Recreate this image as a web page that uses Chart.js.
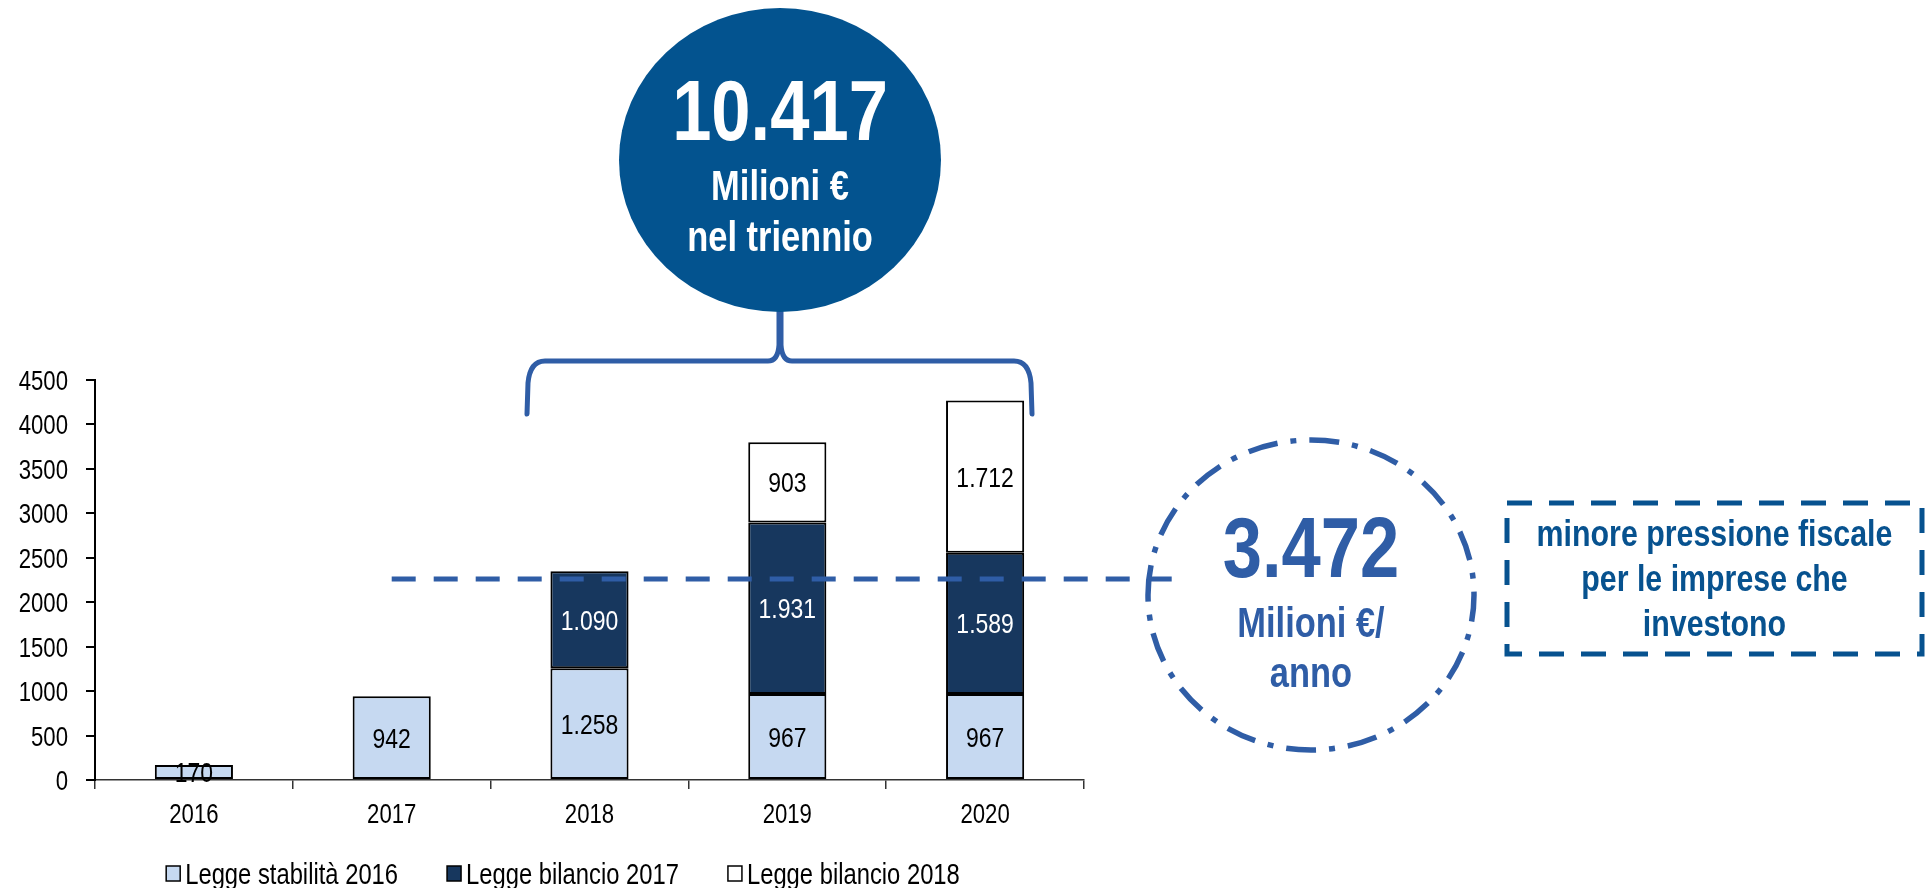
<!DOCTYPE html>
<html lang="it">
<head>
<meta charset="utf-8">
<title>Minore pressione fiscale per le imprese che investono</title>
<script src="https://cdn.jsdelivr.net/npm/chart.js@4.4.1/dist/chart.umd.min.js"></script>
<style>
  html, body { margin: 0; padding: 0; background: #fff; }
  #wrap { position: relative; width: 1930px; height: 888px; }
</style>
</head>
<body>
<div id="wrap"><canvas id="chart" width="1930" height="888"></canvas></div>
<script>
// --- DATI ---
const anni = ['2016', '2017', '2018', '2019', '2020'];
const serieNomi = ['Legge stabilità 2016', 'Legge bilancio 2017', 'Legge bilancio 2018'];
const leggeStabilita2016 = [170, 942, 1258, 967, 967];
const leggeBilancio2017 = [null, null, 1090, 1931, 1589];
const leggeBilancio2018 = [null, null, null, 903, 1712];
const yMin = 0, yMax = 4500, yStep = 500;
const anniTriennio = ['2018', '2019', '2020'];
const lineaRiferimento = 2260; // livello della linea tratteggiata blu

// --- STILE ---
// niente Arial Narrow installato: Liberation Sans stretta in orizzontale
const FONT = '"Liberation Sans", Arial, sans-serif';
const STRETTO = 0.82;
const colori = {
  stabilita: '#C6D9F1',
  bil2017: '#17375E',
  bil2018: '#FFFFFF',
  cerchio: '#03538F',
  blu: '#2F5DA6',
  box: '#07528F'
};
const coloriEtichette = ['#000', '#fff', '#000'];

// posizioni delle decorazioni (non sono dati)
const pos = {
  cerchio: { x: 780, y: 160, rx: 161, ry: 152 },
  graffa: { left: 527, right: 1032, y: 361, bottom: 414, tip: 312 },
  lineaFine: 1182,
  ovale: { x: 1311, y: 595, rx: 163, ry: 155 },
  box: { x: 1507, y: 503, w: 415, h: 151 },
  legenda: { cx: 563, y: 874 },
  tickY: 68,
  tickX: 823
};

// formato italiano: 1258 -> 1.258
const fmt = v => String(v).replace(/\B(?=(\d{3})+(?!\d))/g, '.');

// totale del triennio e media annua
const serie = [leggeStabilita2016, leggeBilancio2017, leggeBilancio2018];
const totaleTriennio = anniTriennio.reduce((acc, a) => {
  const i = anni.indexOf(a);
  return acc + serie.reduce((s, arr) => s + (arr[i] || 0), 0);
}, 0);
const mediaAnnua = Math.round(totaleTriennio / anniTriennio.length);

// testo "narrow" (scala orizzontale)
function testo(ctx, str, x, y, size, color, bold, align) {
  ctx.save();
  ctx.translate(x, y);
  ctx.scale(STRETTO, 1);
  ctx.font = (bold ? 'bold ' : '') + size + 'px ' + FONT;
  ctx.fillStyle = color;
  ctx.textAlign = align || 'center';
  ctx.textBaseline = 'alphabetic';
  ctx.fillText(str, 0, 0);
  ctx.restore();
}

function larghezza(ctx, str, size) {
  ctx.save();
  ctx.font = size + 'px ' + FONT;
  const w = ctx.measureText(str).width * STRETTO;
  ctx.restore();
  return w;
}

// --- PLUGIN: etichette e decorazioni ---
const decorazioni = {
  id: 'decorazioni',
  afterDatasetsDraw(chart) {
    const ctx = chart.ctx;

    // etichette dei valori al centro di ogni segmento
    chart.data.datasets.forEach((ds, i) => {
      chart.getDatasetMeta(i).data.forEach((bar, j) => {
        const v = ds.data[j];
        if (v == null) return;
        const yc = (bar.y + bar.base) / 2;
        testo(ctx, fmt(v), bar.x, yc + 10, 28, coloriEtichette[i], false);
      });
    });

    // linea tratteggiata
    const yRif = chart.scales.y.getPixelForValue(lineaRiferimento);
    const xRif = chart.scales.x.getPixelForValue(1);
    ctx.save();
    ctx.strokeStyle = colori.blu;
    ctx.lineWidth = 5;
    ctx.setLineDash([24, 18]);
    ctx.beginPath();
    ctx.moveTo(xRif, yRif);
    ctx.lineTo(pos.lineaFine, yRif);
    ctx.stroke();
    ctx.restore();
  },
  afterDraw(chart) {
    const ctx = chart.ctx;
    const sx = chart.scales.x, sy = chart.scales.y;

    // etichette degli assi
    sy.ticks.forEach((t, i) => {
      testo(ctx, String(t.value), pos.tickY, sy.getPixelForTick(i) + 10, 27, '#000', false, 'right');
    });
    sx.ticks.forEach((t, i) => {
      testo(ctx, anni[i], sx.getPixelForTick(i), pos.tickX, 27, '#000', false);
    });

    // graffa sopra il triennio
    const g = pos.graffa, xm = pos.cerchio.x;
    ctx.save();
    ctx.strokeStyle = colori.blu;
    ctx.lineWidth = 5;
    ctx.lineCap = 'round';
    ctx.lineJoin = 'round';
    ctx.beginPath();
    ctx.moveTo(g.left, g.bottom);
    ctx.lineTo(g.left + 1, g.y + 22);
    ctx.quadraticCurveTo(g.left + 3, g.y, g.left + 18, g.y);
    ctx.lineTo(xm - 12, g.y);
    ctx.quadraticCurveTo(xm - 2, g.y, xm - 1, g.y - 16);
    ctx.lineTo(xm - 1, g.tip);
    ctx.moveTo(g.right, g.bottom);
    ctx.lineTo(g.right - 1, g.y + 22);
    ctx.quadraticCurveTo(g.right - 3, g.y, g.right - 18, g.y);
    ctx.lineTo(xm + 12, g.y);
    ctx.quadraticCurveTo(xm + 2, g.y, xm + 1, g.y - 16);
    ctx.lineTo(xm + 1, g.tip);
    ctx.stroke();
    ctx.restore();

    // cerchio pieno con il totale
    const c = pos.cerchio;
    ctx.save();
    ctx.fillStyle = colori.cerchio;
    ctx.beginPath();
    ctx.ellipse(c.x, c.y, c.rx, c.ry, 0, 0, Math.PI * 2);
    ctx.fill();
    ctx.restore();
    testo(ctx, fmt(totaleTriennio), c.x, 140, 86, '#fff', true);
    testo(ctx, 'Milioni €', c.x, 200, 42, '#fff', true);
    testo(ctx, 'nel triennio', c.x, 251, 42, '#fff', true);

    // ovale tratto-punto con la media annua
    const o = pos.ovale;
    ctx.save();
    ctx.strokeStyle = colori.blu;
    ctx.lineWidth = 5.5;
    ctx.setLineDash([30, 13, 6, 13]);
    ctx.beginPath();
    ctx.ellipse(o.x, o.y, o.rx, o.ry, 0, Math.PI, Math.PI * 3);
    ctx.stroke();
    ctx.restore();
    testo(ctx, fmt(mediaAnnua), o.x, 577, 86, colori.blu, true);
    testo(ctx, 'Milioni €/', o.x, 637, 42, colori.blu, true);
    testo(ctx, 'anno', o.x, 687, 42, colori.blu, true);

    // riquadro tratteggiato
    const b = pos.box;
    ctx.save();
    ctx.strokeStyle = colori.box;
    ctx.lineWidth = 5;
    ctx.setLineDash([25, 17]);
    ctx.strokeRect(b.x, b.y, b.w, b.h);
    ctx.restore();
    const bx = b.x + b.w / 2;
    testo(ctx, 'minore pressione fiscale', bx, 546, 37, colori.box, true);
    testo(ctx, 'per le imprese che', bx, 591, 37, colori.box, true);
    testo(ctx, 'investono', bx, 636, 37, colori.box, true);

    // legenda
    const box = 14, gap = 5, spazio = 49, fs = 29;
    const larghezze = chart.data.datasets.map(ds => larghezza(ctx, ds.label, fs));
    const totale = larghezze.reduce((s, w) => s + box + gap + w, 0) + spazio * (larghezze.length - 1);
    let lx = pos.legenda.cx - totale / 2;
    const ly = pos.legenda.y;
    chart.data.datasets.forEach((ds, i) => {
      ctx.save();
      ctx.fillStyle = ds.backgroundColor;
      ctx.fillRect(lx, ly - 8, box, box + 1);
      ctx.strokeStyle = '#000';
      ctx.lineWidth = 1.5;
      ctx.strokeRect(lx, ly - 8, box, box + 1);
      ctx.restore();
      testo(ctx, ds.label, lx + box + gap, ly + 10, fs, '#000', false, 'left');
      lx += box + gap + larghezze[i] + spazio;
    });
  }
};

// --- GRAFICO ---
Chart.defaults.font.family = FONT;
Chart.defaults.color = '#000';

const datasetDa = (label, data, colore) => ({
  label: label,
  data: data,
  backgroundColor: colore,
  borderColor: '#000',
  borderWidth: 2,
  borderSkipped: false,
  categoryPercentage: 1,
  barPercentage: 0.395
});

new Chart(document.getElementById('chart'), {
  type: 'bar',
  data: {
    labels: anni,
    datasets: [
      datasetDa(serieNomi[0], leggeStabilita2016, colori.stabilita),
      datasetDa(serieNomi[1], leggeBilancio2017, colori.bil2017),
      datasetDa(serieNomi[2], leggeBilancio2018, colori.bil2018)
    ]
  },
  options: {
    responsive: false,
    animation: false,
    layout: { padding: { top: 380, left: 0, right: 846, bottom: 48 } },
    plugins: {
      legend: { display: false },
      tooltip: { enabled: false }
    },
    scales: {
      x: {
        stacked: true,
        grid: { offset: true, drawOnChartArea: false, tickLength: 9, color: '#333', lineWidth: 1.5 },
        border: { color: '#333', width: 1.5 },
        ticks: { display: false },
        afterFit: s => { s.height = 60; }
      },
      y: {
        stacked: true,
        min: yMin,
        max: yMax,
        grid: { drawOnChartArea: false, tickLength: 9, color: '#000', lineWidth: 2 },
        border: { color: '#000', width: 2 },
        ticks: { display: false, stepSize: yStep },
        afterFit: s => { s.width = 95; }
      }
    }
  },
  plugins: [decorazioni]
});
</script>
</body>
</html>
